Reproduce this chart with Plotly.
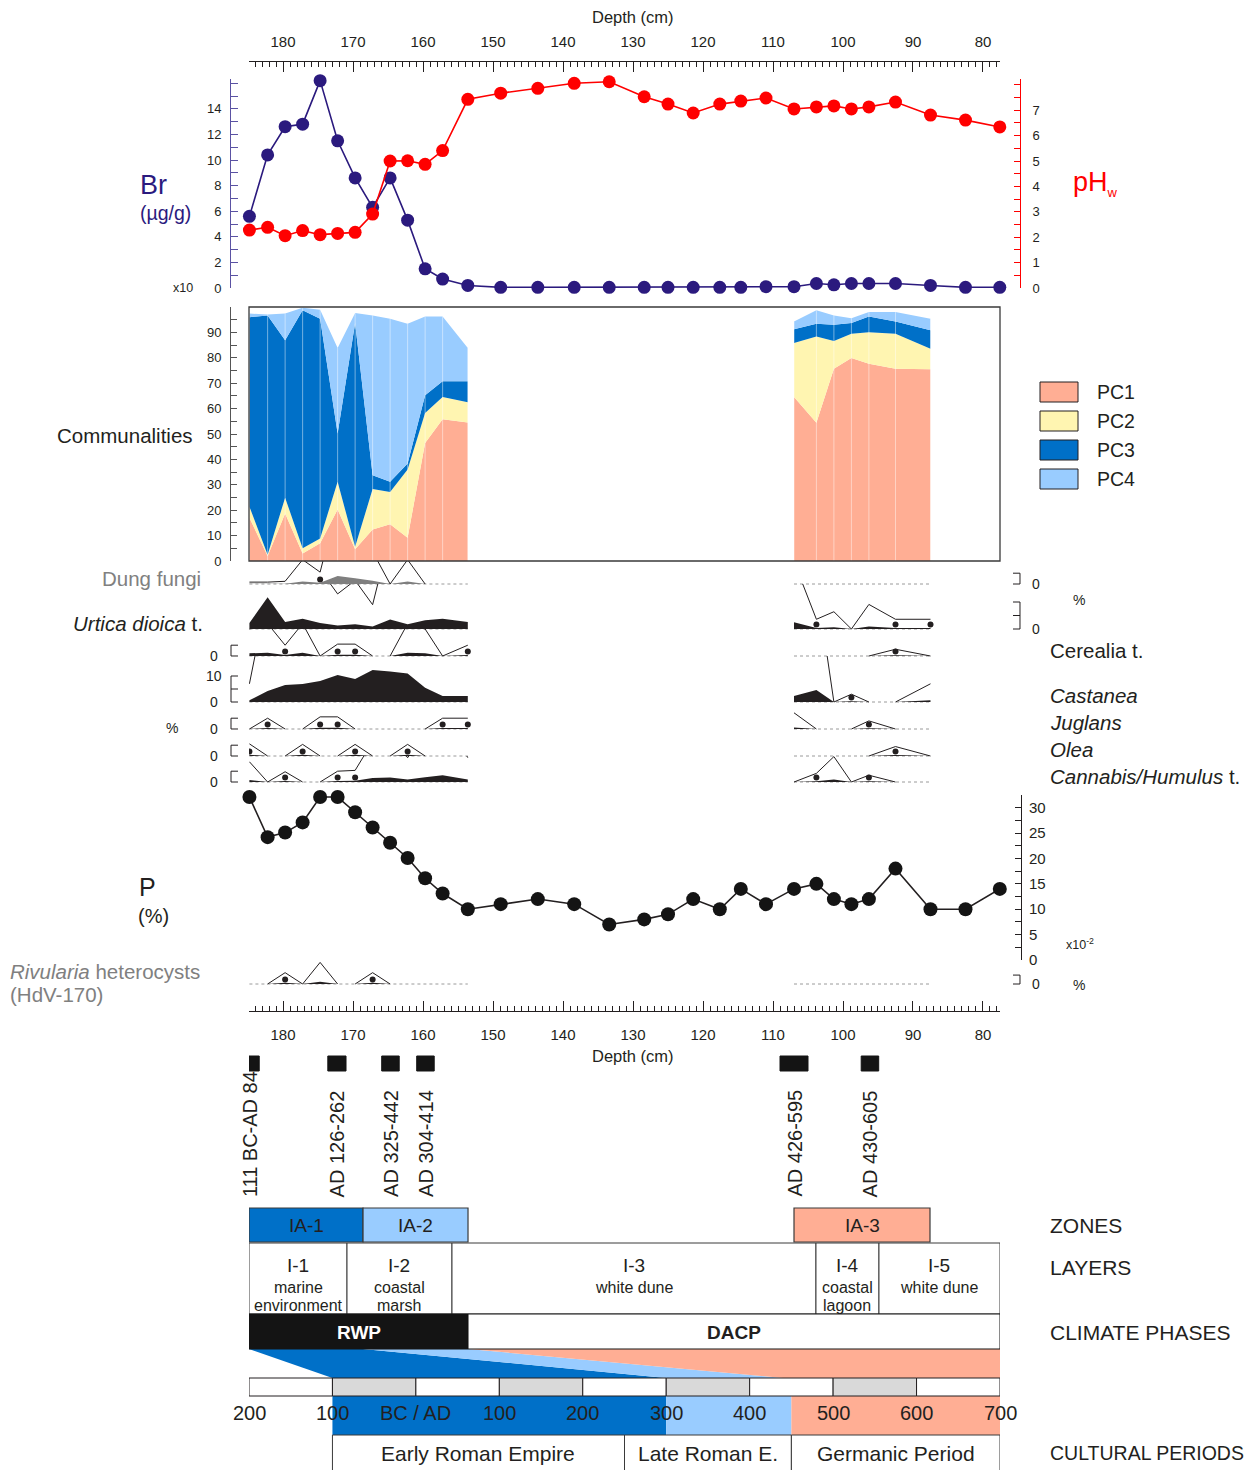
import plotly.graph_objects as go

W, H = 1257, 1470
OFF = 8  # page body margin: reference pixel positions include it


def PX(x):
    return (x - OFF) / W


def PY(y):
    return 1 - (y - OFF) / H


# ---------------------------------------------------------------- data
geo_depth = [184.8, 182.2, 179.7, 177.2, 174.7, 172.2, 169.7, 167.2, 164.7, 162.2,
             159.7, 157.2, 153.6, 148.9, 143.6, 138.4, 133.4, 128.4, 125.0, 121.4,
             117.6, 114.6, 111.0, 107.0, 103.8, 101.3, 98.8, 96.3, 92.5, 87.5, 82.5, 77.6]
br_ugg = [5.6, 10.4, 12.6, 12.8, 16.2, 11.5, 8.6, 6.3, 8.6, 5.3,
          1.5, 0.7, 0.2, 0.05, 0.05, 0.05, 0.05, 0.05, 0.05, 0.05,
          0.05, 0.05, 0.1, 0.1, 0.35, 0.25, 0.35, 0.35, 0.35, 0.2, 0.05, 0.05]
ph_w = [2.28, 2.39, 2.06, 2.26, 2.10, 2.15, 2.19, 2.91, 5.00, 5.01,
        4.87, 5.41, 7.43, 7.67, 7.86, 8.06, 8.12, 7.53, 7.24, 6.89,
        7.24, 7.36, 7.48, 7.05, 7.13, 7.17, 7.05, 7.13, 7.32, 6.81, 6.61, 6.34]
p_pct = [32.1, 24.2, 25.1, 27.1, 32.1, 32.1, 29.1, 26.1, 23.1, 20.1,
         16.1, 13.1, 10.0, 11.0, 12.0, 11.0, 7.0, 8.0, 9.0, 12.0,
         10.0, 14.0, 11.0, 14.0, 15.0, 12.0, 11.0, 12.0, 18.0, 10.0, 10.0, 14.0]

# pollen / communalities sample depths (two sampled segments)
pol_depth_a = [184.8, 182.2, 179.7, 177.2, 174.7, 172.2, 169.7, 167.2, 164.7, 162.2, 159.7, 157.2, 153.6]
pol_depth_b = [107.0, 103.8, 101.3, 98.8, 96.3, 92.5, 87.5]

pc1_a = [17.0, 2.0, 18.7, 3.0, 7.0, 20.3, 4.6, 12.4, 14.5, 9.2, 46.5, 55.8, 54.5]
pc2_a = [4.4, 0.5, 6.2, 2.0, 1.9, 10.9, 1.0, 15.9, 12.7, 26.8, 11.8, 8.8, 8.0]
pc3_a = [74.6, 94.2, 62.0, 93.7, 86.5, 19.0, 88.1, 5.5, 4.0, 2.4, 7.0, 6.2, 8.3]
pc4_a = [1.4, 0.3, 10.5, 1.0, 3.5, 33.7, 3.9, 62.9, 64.2, 55.0, 31.0, 25.5, 13.1]
pc1_b = [64.6, 54.4, 75.7, 79.9, 77.7, 75.7, 75.5]
pc2_b = [21.2, 34.0, 10.9, 9.6, 12.4, 13.8, 8.1]
pc3_b = [5.4, 5.0, 6.4, 4.2, 6.2, 4.8, 7.2]
pc4_b = [3.1, 5.3, 3.7, 1.9, 1.7, 3.7, 4.6]
pc_names = ["PC1", "PC2", "PC3", "PC4"]

dung_a = [0.07, 0.07, 0.1, 0.9, 0.44, 3.0, 2.1, 1.2, 0.0, 0.9, 0.0, 0.0, 0.0]
dung_b = [0.0, 0.0, 0.0, 0.0, 0.0, 0.0, 0.0]
dung_dots_a, dung_dots_b = [4], []
urtica_a = [2.2, 11.8, 2.6, 3.8, 2.2, 1.3, 1.8, 0.9, 3.5, 1.8, 3.2, 3.8, 2.6]
urtica_b = [2.5, 0.36, 0.64, 0.0, 0.91, 0.36, 0.36]
urtica_dots_a, urtica_dots_b = [], [1, 5, 6]
cerealia_a = [1.0, 1.2, 0.4, 1.2, 0.0, 0.44, 0.44, 0.0, 0.0, 1.2, 1.0, 0.0, 0.4]
cerealia_b = [0.0, 0.0, 0.0, 0.0, 0.0, 0.25, 0.0]
cerealia_dots_a, cerealia_dots_b = [2, 5, 6, 12], [5]
castanea_a = [0.7, 4.2, 6.5, 6.9, 8.1, 10.4, 8.8, 12.3, 11.7, 11.0, 5.5, 2.3, 2.3]
castanea_b = [2.3, 4.6, 0.0, 0.3, 0.0, 0.0, 0.7]
castanea_dots_a, castanea_dots_b = [], [3]
juglans_a = [0.0, 0.4, 0.0, 0.0, 0.45, 0.45, 0.0, 0.0, 0.0, 0.0, 0.0, 0.4, 0.4]
juglans_b = [0.6, 0.0, 0.0, 0.0, 0.3, 0.0, 0.0]
juglans_dots_a, juglans_dots_b = [1, 4, 5, 11, 12], [4]
olea_a = [0.45, 0.0, 0.0, 0.43, 0.0, 0.0, 0.43, 0.0, 0.0, 0.43, 0.0, 0.0, 0.0]
olea_b = [0.0, 0.0, 0.0, 0.0, 0.0, 0.35, 0.0]
olea_dots_a, olea_dots_b = [0, 3, 6, 9], [5]
cannabis_a = [0.75, 0.0, 0.38, 0.0, 0.0, 0.4, 0.43, 1.5, 1.7, 0.9, 1.8, 2.5, 0.9]
cannabis_b = [0.0, 0.32, 0.94, 0.0, 0.25, 0.0, 0.0]
cannabis_dots_a, cannabis_dots_b = [2, 5, 6], [1, 4]
rivularia_a = [0.0, 0.0, 0.42, 0.0, 0.8, 0.0, 0.0, 0.42, 0.0, 0.0, 0.0, 0.0, 0.0]
rivularia_b = [0.0, 0.0, 0.0, 0.0, 0.0, 0.0, 0.0]
rivularia_dots_a, rivularia_dots_b = [2, 7], []
EXAG = 10

# chronology
date_labels = ["111 BC-AD 84", "AD 126-262", "AD 325-442", "AD 304-414", "AD 426-595", "AD 430-605"]
date_top = [186.0, 173.6, 165.9, 160.9, 109.0, 97.4]
date_bot = [183.4, 171.0, 163.4, 158.4, 105.0, 94.9]

zone_names = ["IA-1", "IA-2", "IA-3"]
zone_from = [184.86, 168.57, 107.0]
zone_to = [168.57, 153.57, 87.57]

layer_names = ["I-1", "I-2", "I-3", "I-4", "I-5"]
layer_desc = [["marine", "environment"], ["coastal", "marsh"], ["white dune"],
              ["coastal", "lagoon"], ["white dune"]]
layer_bounds = [184.86, 170.86, 155.86, 103.86, 94.86, 77.57]

climate_names = ["RWP", "DACP"]
climate_bounds = [184.86, 153.57, 77.57]

wedge_top_from = [184.86, 168.57, 153.57]
wedge_top_to = [168.57, 153.57, 77.57]
wedge_age_from = [-100, 300, 440]
wedge_age_to = [300, 440, 700]

age_ticks = [-200, -100, 0, 100, 200, 300, 400, 500, 600, 700]
age_ticktext = ["200", "100", "BC / AD", "100", "200", "300", "400", "500", "600", "700"]
band_from = [-100, 300, 450]
band_to = [300, 450, 700]
period_names = ["Early Roman Empire", "Late Roman E.", "Germanic Period"]
period_from = [-100, 250, 450]
period_to = [250, 450, 700]

# ---------------------------------------------------------------- style
BLUE, LBLUE, SALMON, YELLOW = "#0070C8", "#99CCFF", "#FFAE94", "#FFF5B1"
BR_C, BR_AX, PH_C, INK, GREYT = "#2B1A7E", "#5B52A3", "#FF0000", "#231F20", "#808080"
FONT = "Liberation Sans, Arial, sans-serif"
NARROW = "Liberation Sans Narrow, Arial Narrow, Liberation Sans, sans-serif"
PC_COLORS = [SALMON, YELLOW, BLUE, LBLUE]
BAND_COLORS = [BLUE, LBLUE, SALMON]

X_LEFT, X_RIGHT = 184.86, 77.57
XDOM = [PX(249), PX(1000)]
AGE_RANGE = [-200, 700]

fig = go.Figure()
ann = []
shapes = []


def text(x, y, s, size=14, color=INK, xanchor="center", yanchor="middle",
         xref="paper", family=FONT, angle=0):
    if xref == "paper":
        # compensate the annotation's inner padding so text edges meet the given pixel
        x = x + (2 if xanchor == "right" else -2 if xanchor == "left" else 0)
        x = PX(x)
    ann.append(dict(x=x, y=PY(y), text=s, showarrow=False,
                    xref=xref, yref="paper", xanchor=xanchor, yanchor=yanchor,
                    textangle=angle, font=dict(size=size, color=color, family=family)))


def rect(x0, x1, y0, y1, fill, line=INK, lw=1, xref="x"):
    shapes.append(dict(type="rect", xref=xref, yref="paper", x0=x0, x1=x1,
                       y0=PY(y1), y1=PY(y0), fillcolor=fill,
                       line=dict(color=line, width=lw), layer="above"))


# ---------------------------------------------------------------- Br & pH
fig.add_trace(go.Scatter(x=geo_depth, y=br_ugg, xaxis="x2", yaxis="y", mode="lines+markers",
                         line=dict(color=BR_C, width=1.6), marker=dict(size=13, color=BR_C),
                         cliponaxis=False, hoverinfo="skip"))
fig.add_trace(go.Scatter(x=geo_depth, y=ph_w, xaxis="x2", yaxis="y2", mode="lines+markers",
                         line=dict(color=PH_C, width=1.6), marker=dict(size=13, color=PH_C),
                         cliponaxis=False, hoverinfo="skip"))

# ---------------------------------------------------------------- communalities
for sg, (dep, comps) in enumerate([(pol_depth_a, [pc1_a, pc2_a, pc3_a, pc4_a]),
                                   (pol_depth_b, [pc1_b, pc2_b, pc3_b, pc4_b])]):
    for vals, col in zip(comps, PC_COLORS):
        fig.add_trace(go.Scatter(x=dep, y=vals, xaxis="x", yaxis="y3", stackgroup="comm%d" % sg,
                                 mode="none", fillcolor=col, hoverinfo="skip"))
    totals = [sum(v) for v in zip(*comps)]
    xs, ys = [], []
    for d, t in zip(dep, totals):
        xs += [d, d, None]
        ys += [0, t, None]
    fig.add_trace(go.Scatter(x=xs, y=ys, xaxis="x", yaxis="y3", mode="lines",
                             line=dict(color="rgba(255,255,255,0.45)", width=1), hoverinfo="skip"))

# ---------------------------------------------------------------- pollen panels
panels = [
    # axis, a, b, dots_a, dots_b, base px, top px, px per %, fill
    ("y4", dung_a, dung_b, dung_dots_a, dung_dots_b, 584, 561, 2.7, "#7f7f7f"),
    ("y5", urtica_a, urtica_b, urtica_dots_a, urtica_dots_b, 629, 584, 2.7, INK),
    ("y6", cerealia_a, cerealia_b, cerealia_dots_a, cerealia_dots_b, 656, 629, 2.7, INK),
    ("y7", castanea_a, castanea_b, castanea_dots_a, castanea_dots_b, 702, 656, 2.6, INK),
    ("y8", juglans_a, juglans_b, juglans_dots_a, juglans_dots_b, 729, 702, 2.7, INK),
    ("y9", olea_a, olea_b, olea_dots_a, olea_dots_b, 756, 729, 2.7, INK),
    ("y10", cannabis_a, cannabis_b, cannabis_dots_a, cannabis_dots_b, 782, 756, 2.7, INK),
    ("y11", rivularia_a, rivularia_b, rivularia_dots_a, rivularia_dots_b, 984, 960, 2.7, INK),
]
PAD = 1.5


def exag_line(depths, vals):
    xs, ys = [], []
    prev = False
    for i in range(len(vals) - 1):
        if vals[i] > 0 or vals[i + 1] > 0:
            if not prev:
                if xs:
                    xs.append(None)
                    ys.append(None)
                xs.append(depths[i])
                ys.append(vals[i] * EXAG)
            xs.append(depths[i + 1])
            ys.append(vals[i + 1] * EXAG)
            prev = True
        else:
            prev = False
    return xs, ys


panel_axes = {}
for ax, va, vb, da, db, base, top, ppp, fill in panels:
    panel_axes[ax] = dict(domain=[PY(base + PAD), PY(top)], range=[-PAD / ppp, (base - top) / ppp])
    for dep, vals, dots in [(pol_depth_a, va, da), (pol_depth_b, vb, db)]:
        fig.add_trace(go.Scatter(x=[dep[0], dep[-1]], y=[0, 0], xaxis="x", yaxis=ax, mode="lines",
                                 line=dict(color="#9a9a9a", width=1, dash="dot"), hoverinfo="skip"))
        fig.add_trace(go.Scatter(x=dep, y=vals, xaxis="x", yaxis=ax, mode="none", fill="tozeroy",
                                 fillcolor=fill, hoverinfo="skip"))
        ex, ey = exag_line(dep, vals)
        if ex:
            fig.add_trace(go.Scatter(x=ex, y=ey, xaxis="x", yaxis=ax, mode="lines",
                                     line=dict(color=INK, width=1), hoverinfo="skip"))
        if dots:
            fig.add_trace(go.Scatter(x=[dep[i] for i in dots], y=[4.5 / ppp] * len(dots),
                                     xaxis="x", yaxis=ax, mode="markers",
                                     marker=dict(size=6, color=INK), hoverinfo="skip"))

# ---------------------------------------------------------------- P
fig.add_trace(go.Scatter(x=geo_depth, y=p_pct, xaxis="x", yaxis="y12", mode="lines+markers",
                         line=dict(color=INK, width=1.6), marker=dict(size=14, color="#141414"),
                         cliponaxis=False, hoverinfo="skip"))

# ---------------------------------------------------------------- axes
xcommon = dict(domain=XDOM, range=[X_LEFT, X_RIGHT], showgrid=False, zeroline=False, showline=True,
               linecolor=INK, linewidth=1, ticks="inside", ticklen=10, tickwidth=1, tickcolor=INK,
               tickvals=list(range(80, 190, 10)), tickfont=dict(size=15, family=NARROW, color=INK),
               minor=dict(ticks="inside", ticklen=5, tickwidth=1, tickcolor=INK, dtick=1, tick0=0,
                          showgrid=False),
               anchor="free", automargin=False)


def yax(domain, rng, pos, side="left", color=INK, tickvals=None, minor=None, ticklen=7,
        visible=True, overlaying=None, labelcolor=INK, standoff=0, fsize=13):
    d = dict(range=rng, showgrid=False, zeroline=False, anchor="free", position=pos, side=side,
             automargin=False, visible=visible)
    if domain is not None:
        d["domain"] = domain
    if overlaying:
        d["overlaying"] = overlaying
    if visible:
        d.update(showline=True, linecolor=color, linewidth=1, ticks="inside", ticklen=ticklen,
                 tickcolor=color, tickwidth=1, tickvals=tickvals, ticklabelstandoff=standoff,
                 tickfont=dict(size=fsize, color=labelcolor, family=FONT))
        if minor:
            d["minor"] = dict(ticks="inside", ticklen=ticklen, tickcolor=color, tickwidth=1,
                              dtick=minor, tick0=0, showgrid=False)
    return d


layout = dict(
    width=W, height=H, autosize=False, margin=dict(l=0, r=0, t=0, b=0), showlegend=False,
    template="none", paper_bgcolor="white", plot_bgcolor="rgba(0,0,0,0)",
    font=dict(family=FONT, color=INK, size=14),
    xaxis=dict(**xcommon, position=PY(1011), side="bottom", ticklabelstandoff=10),
    xaxis2=dict(**xcommon, position=PY(61), side="top", ticklabelstandoff=8),
    xaxis3=dict(domain=XDOM, range=AGE_RANGE, visible=False, anchor="free", position=0),
    yaxis=yax([PY(288), PY(288 - 16.3 * 12.8)], [0, 16.3], PX(230), "left", BR_AX,
              list(range(0, 16, 2)), 1, 7, standoff=6),
    yaxis2=yax(None, [0, 16.3 * 12.8 / 25.4], PX(1020), "right", PH_C, list(range(0, 8)), 0.5, 6,
               overlaying="y", standoff=9),
    yaxis3=yax([PY(561), PY(307)], [0, 100], PX(230), "left", "#555555", list(range(0, 100, 10)), 5, 6,
               standoff=6),
    yaxis12=yax([PY(960), PY(795)], [0, 165 / 5.077], PX(1021), "right", INK,
                list(range(0, 35, 5)), 2.5, 6, standoff=4, fsize=15),
)
for ax, spec in panel_axes.items():
    layout["yaxis" + ax[1:]] = dict(domain=spec["domain"], range=spec["range"], visible=False,
                                    anchor="free", position=0, showgrid=False, zeroline=False)

# ---------------------------------------------------------------- decorations
# communalities frame
shapes.append(dict(type="rect", xref="x domain", yref="y3 domain", x0=0, x1=1, y0=0, y1=1,
                   line=dict(color="#3a3a3a", width=1.3), layer="above"))

# legend
for i, (nm, col) in enumerate(zip(pc_names, PC_COLORS)):
    y0 = 382 + i * 29
    rect(PX(1040), PX(1078), y0, y0 + 20, col, INK, 1, xref="paper")
    text(1097, y0 + 10, nm, size=19.5, xanchor="left")


# brackets for pollen scales
def bracket(side, base, span, ppp, mid=False):
    top = base - span * ppp
    if side == "left":
        xv, xt = 231, 238
    else:
        xv, xt = 1020, 1013
    path = "M %f,%f L %f,%f L %f,%f L %f,%f" % (PX(xt), PY(base), PX(xv), PY(base),
                                               PX(xv), PY(top), PX(xt), PY(top))
    shapes.append(dict(type="path", xref="paper", yref="paper", path=path,
                       line=dict(color=INK, width=1)))
    if mid:
        ym = (base + top) / 2
        shapes.append(dict(type="line", xref="paper", yref="paper", x0=PX(xv), x1=PX(xt),
                           y0=PY(ym), y1=PY(ym), line=dict(color=INK, width=1)))


bracket("right", 584, 4, 2.7)
bracket("right", 629, 10, 2.7, mid=True)
bracket("left", 656, 4, 2.7)
bracket("left", 702, 10, 2.6, mid=True)
bracket("left", 729, 4, 2.7)
bracket("left", 756, 4, 2.7)
bracket("left", 782, 4, 2.7)
bracket("right", 984, 3.3, 2.7)
for yy in [656, 702, 729, 756, 782]:
    text(214, yy, "0", size=14)
text(214, 676, "10", size=14)
for yy in [584, 629, 984]:
    text(1036, yy, "0", size=14)
text(172, 728, "%", size=14)
text(1079, 600, "%", size=14)
text(1079, 985, "%", size=14)

# panel labels
text(633, 17, "Depth (cm)", size=16.5, family=NARROW)
text(633, 1056, "Depth (cm)", size=16.5, family=NARROW)
text(153, 185, "Br", size=27, color=BR_C)
text(165, 213, "(µg/g)", size=19.5, color=BR_C)
text(1073, 184, "pH<sub><span style='font-size:13px'>w</span></sub>", size=27, color=PH_C,
     xanchor="left")
text(183, 288, "x10", size=12.5)
text(193, 435, "Communalities", size=20.5, xanchor="right")
text(201, 578, "Dung fungi", size=20.5, color=GREYT, xanchor="right")
text(203, 623, "<i>Urtica dioica</i> t.", size=20.5, xanchor="right")
text(1050, 650, "Cerealia t.", size=20.5, xanchor="left")
text(1050, 695, "<i>Castanea</i>", size=20.5, xanchor="left")
text(1050, 722, "<i>Juglans</i>", size=20.5, xanchor="left")
text(1050, 749, "<i>Olea</i>", size=20.5, xanchor="left")
text(1050, 776, "<i>Cannabis/Humulus</i> t.", size=20.5, xanchor="left")
text(147, 887, "P", size=25)
text(153, 916, "(%)", size=20)
text(1066, 944, "x10<sup>-2</sup>", size=12.5, xanchor="left")
text(10, 971, "<i>Rivularia</i> heterocysts", size=20.5, color=GREYT, xanchor="left")
text(10, 994, "(HdV-170)", size=20.5, color=GREYT, xanchor="left")

# ---------------------------------------------------------------- chronology
for lab, d0, d1 in zip(date_labels, date_top, date_bot):
    rect(d0, d1, 1056, 1071, "#141414", "#141414", 1)
    ann.append(dict(x=(d0 + d1) / 2, y=PY(1199), xref="x", yref="paper", text=lab, showarrow=False,
                    textangle=-90, xanchor="center", yanchor="bottom",
                    font=dict(size=20, color=INK, family=FONT)))

for nm, d0, d1, col in zip(zone_names, zone_from, zone_to, BAND_COLORS):
    rect(d0, d1, 1208, 1242, col, "#3a3a3a", 1.2)
    text((d0 + d1) / 2, 1225, nm, size=19, xref="x")

for i, nm in enumerate(layer_names):
    d0, d1 = layer_bounds[i], layer_bounds[i + 1]
    rect(d0, d1, 1243, 1314, "white", "#3a3a3a", 1)
    text((d0 + d1) / 2, 1265, nm, size=19, xref="x")
    for j, line in enumerate(layer_desc[i]):
        text((d0 + d1) / 2, 1287 + 18 * j, line, size=16, xref="x")

for i, nm in enumerate(climate_names):
    d0, d1 = climate_bounds[i], climate_bounds[i + 1]
    dark = i == 0
    rect(d0, d1, 1314, 1349, "#141414" if dark else "white", "#141414", 1)
    text((d0 + d1) / 2, 1332, "<b>%s</b>" % nm, size=19, color="white" if dark else INK, xref="x")


def age_to_depth(a):
    return X_LEFT + (a - AGE_RANGE[0]) / (AGE_RANGE[1] - AGE_RANGE[0]) * (X_RIGHT - X_LEFT)


for t0, t1, a0, a1, col in zip(wedge_top_from, wedge_top_to, wedge_age_from, wedge_age_to, BAND_COLORS):
    path = "M %f,%f L %f,%f L %f,%f L %f,%f Z" % (
        t0, PY(1349), t1, PY(1349), age_to_depth(a1), PY(1378), age_to_depth(a0), PY(1378))
    shapes.append(dict(type="path", xref="x", yref="paper", path=path, fillcolor=col,
                       line=dict(width=0), layer="below"))

for i in range(len(age_ticks) - 1):
    rect(age_ticks[i], age_ticks[i + 1], 1378, 1396, "#D9D9D9" if i % 2 == 1 else "white",
         INK, 1, xref="x3")
for a0, a1, col in zip(band_from, band_to, BAND_COLORS):
    shapes.append(dict(type="rect", xref="x3", yref="paper", x0=a0, x1=a1, y0=PY(1435), y1=PY(1396),
                       fillcolor=col, line=dict(width=0), layer="below"))
for a, lab in zip(age_ticks, age_ticktext):
    text(a, 1413, lab, size=20, xref="x3", family=NARROW)
for nm, a0, a1 in zip(period_names, period_from, period_to):
    rect(a0, a1, 1435, 1485, "white", "#3a3a3a", 1, xref="x3")
    text((a0 + a1) / 2, 1453, nm, size=21, xref="x3", family=NARROW)

for lab, yy, fs in [("ZONES", 1225, 21), ("LAYERS", 1267, 21), ("CLIMATE PHASES", 1332, 21),
                    ("CULTURAL PERIODS", 1453, 19.5)]:
    text(1050, yy, lab, size=fs, xanchor="left", family=NARROW)

layout["annotations"] = ann
layout["shapes"] = shapes
fig.update_layout(**layout)
fig.write_html("out.html")
